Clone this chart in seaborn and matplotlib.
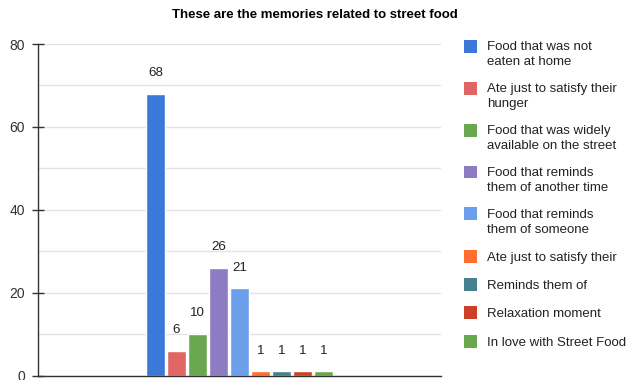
import matplotlib
matplotlib.use("Agg")
import matplotlib.pyplot as plt
import matplotlib.patches as mpatches
from matplotlib.legend_handler import HandlerPatch
import seaborn as sns
import pandas as pd

# Survey answers and their counts
categories = [
    "Food that was not\neaten at home",
    "Ate just to satisfy their\nhunger",
    "Food that was widely\navailable on the street",
    "Food that reminds\nthem of another time",
    "Food that reminds\nthem of someone",
    "Ate just to satisfy their",
    "Reminds them of",
    "Relaxation moment",
    "In love with Street Food",
]
values = [68, 6, 10, 26, 21, 1, 1, 1, 1]
colors = ["#3c78d8", "#e06666", "#6aa84f", "#8e7cc3", "#6d9eeb",
          "#ff6d31", "#45818e", "#cc4125", "#6aa84f"]
title = "These are the memories related to street food"
yticks = [0, 20, 40, 60, 80]

sns.set_theme(style="white")
plt.rcParams["font.family"] = ["Liberation Sans", "DejaVu Sans"]

df = pd.DataFrame({"group": [""] * len(categories),
                   "answer": categories,
                   "count": values})

fig = plt.figure(figsize=(6.27, 3.80), dpi=100)
ax = fig.add_axes([38 / 627, 1 - 375.5 / 380, (441 - 38) / 627, (375.5 - 44) / 380])

sns.barplot(data=df, x="group", y="count", hue="answer", hue_order=categories,
            palette=colors, width=0.469, gap=0.14, dodge=True,
            saturation=1, legend=False, ax=ax, zorder=3, errorbar=None)

for cont in ax.containers:
    ax.bar_label(cont, fmt="%d", padding=10.5, fontsize=9.6, color="#222222")

ax.set_xlim(-0.5, 0.5)
ax.set_ylim(0, 80)
ax.set_yticks(yticks)
ax.set_yticks(range(0, 81, 10), minor=True)
ax.set_xticks([])
ax.set_xlabel("")
ax.set_ylabel("")
ax.grid(axis="y", which="both", color="#e3e3e3", linewidth=1.0, zorder=0)
ax.tick_params(axis="y", which="major", left=True, direction="inout", length=8.6,
               width=1, color="#333333", labelsize=10, labelcolor="#333333", pad=5)
ax.tick_params(axis="y", which="minor", left=False, length=0)
for side in ["top", "right"]:
    ax.spines[side].set_visible(False)
for side in ["left", "bottom"]:
    ax.spines[side].set_color("#333333")
    ax.spines[side].set_linewidth(1.0)
    ax.spines[side].set_zorder(5)

fig.text(0.5 * (172 + 458) / 627, 1 - 15 / 380, title, ha="center", va="center",
         fontsize=9.5, fontweight="bold", color="#000000")

# Legend: square swatches aligned with the first line of each label
fs = 9.5


def make_patch(legend, orig_handle, xdescent, ydescent, width, height, fontsize):
    size = 0.98 * fontsize
    shift = 0.63 * fontsize * orig_handle.get_label().count("\n")
    y = -ydescent + (height - size) / 2 + shift
    return mpatches.Rectangle((-xdescent, y), size, size)


handles = [mpatches.Patch(facecolor=c, edgecolor="none", label=l)
           for c, l in zip(colors, categories)]
leg = fig.legend(handles=handles, labels=categories,
                 loc="upper left", bbox_to_anchor=(464 / 627, 1 - 41 / 380),
                 frameon=False, fontsize=fs, labelspacing=1.12,
                 handlelength=0.98, handleheight=1.0, handletextpad=0.76,
                 borderaxespad=0, borderpad=0,
                 handler_map={mpatches.Patch: HandlerPatch(patch_func=make_patch)})
for t in leg.get_texts():
    t.set_color("#222222")
    t.set_linespacing(1.35)

fig.savefig("out.png", dpi=100)
